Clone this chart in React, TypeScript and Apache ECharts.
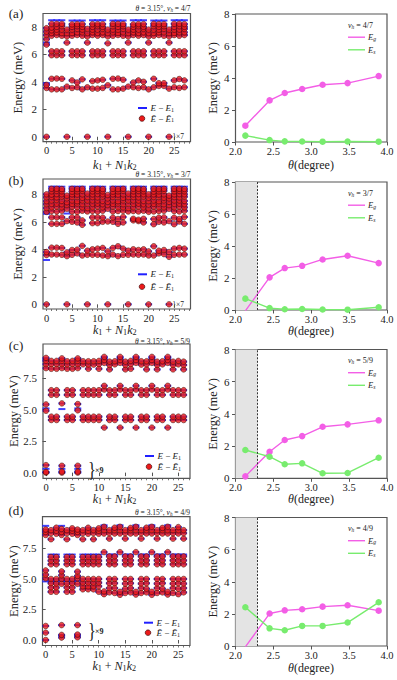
import React, { useEffect, useRef } from "react";
import * as echarts from "echarts";

const SERIF = '"Liberation Serif", "DejaVu Serif", serif';
const INK = "#222";
const FRAME = "#555";
const RED = "#ec1a1a";
const BLUE = "#2020ff";
const PINK = "#f35ee6";
const GREEN = "#78ec6e";

// ---------------- right panels: gap vs twist angle ----------------
const thetaDeg = [2.13, 2.45, 2.65, 2.88, 3.15, 3.48, 3.89];
const gapA = [1.02, 2.6, 3.06, 3.31, 3.58, 3.68, 4.12];
const splitA = [0.4, 0.12, 0.04, 0.03, 0.02, 0.03, 0.02];
const gapB = [-0.05, 2.04, 2.62, 2.76, 3.16, 3.39, 2.93];
const splitB = [0.71, 0.12, 0.05, 0.06, 0.03, 0.02, 0.17];
const gapC = [0.12, 1.65, 2.38, 2.62, 3.2, 3.35, 3.6];
const splitC = [1.76, 1.34, 0.87, 0.93, 0.31, 0.33, 1.28];
const gapD = [-0.05, 2.02, 2.22, 2.29, 2.45, 2.54, 2.2];
const splitD = [2.41, 1.1, 0.98, 1.25, 1.25, 1.46, 2.72];
const criticalTheta = 2.29;

// ---------------- left panels: spectra per momentum k1 + N1 k2 ----------------
const specA = [
  [0, 3.55, 3.78, 6.7, 7.1, 7.4, 7.65, 7.9],
  [3.45, 4.22, 5.93, 6.22, 7.35, 7.55, 7.75, 7.95, 8.22],
  [3.45, 4.24, 5.93, 6.22, 7.4, 7.6, 7.8, 8.0, 8.22],
  [3.45, 4.22, 5.93, 6.22, 7.35, 7.55, 7.8, 8.05, 8.22],
  [0, 3.65, 6.85, 7.3, 7.55, 7.8],
  [3.55, 4.1, 5.93, 6.22, 7.35, 7.55, 7.8, 8.0, 8.18],
  [3.6, 3.95, 5.93, 6.22, 7.4, 7.6, 7.85, 8.05, 8.2],
  [3.45, 4.18, 5.93, 6.22, 7.35, 7.6, 7.8, 8.0, 8.2],
  [0, 3.6, 6.85, 7.3, 7.55, 7.85],
  [3.5, 4.05, 5.93, 6.22, 7.4, 7.6, 7.8, 8.0, 8.2],
  [3.5, 4.1, 5.93, 6.22, 7.35, 7.55, 7.8, 8.05, 8.2],
  [3.55, 4.15, 5.93, 6.22, 7.4, 7.6, 7.85, 8.0, 8.2],
  [0, 3.75, 6.8, 7.3, 7.55, 7.8],
  [3.45, 4.22, 5.93, 6.22, 7.35, 7.6, 7.8, 8.05, 8.22],
  [3.45, 4.24, 5.93, 6.22, 7.4, 7.55, 7.8, 8.0, 8.22],
  [3.5, 4.15, 5.93, 6.22, 7.35, 7.6, 7.85, 8.05, 8.2],
  [0, 3.65, 6.85, 7.3, 7.55, 7.8],
  [3.6, 3.95, 5.93, 6.22, 7.4, 7.6, 7.8, 8.0, 8.18],
  [3.55, 4.1, 5.93, 6.22, 7.35, 7.55, 7.8, 8.05, 8.2],
  [3.6, 4.0, 5.93, 6.22, 7.4, 7.6, 7.85, 8.0, 8.2],
  [0, 3.45, 6.85, 7.3, 7.55, 7.8],
  [3.6, 4.22, 5.93, 6.22, 7.35, 7.55, 7.8, 8.05, 8.22],
  [3.7, 3.9, 5.93, 6.22, 7.4, 7.6, 7.8, 8.0, 8.2],
  [3.7, 3.9, 5.93, 6.22, 7.35, 7.6, 7.85, 8.05, 8.2],
  [0, 3.5, 6.85, 7.3, 7.55, 7.8],
  [3.6, 4.1, 5.93, 6.22, 7.4, 7.55, 7.8, 8.0, 8.22],
  [3.55, 4.2, 5.93, 6.22, 7.35, 7.6, 7.8, 8.05, 8.22],
  [3.6, 4.1, 5.93, 6.22, 7.4, 7.6, 7.85, 8.0, 8.2],
];
const blueOnlyA = [
  [1, 8.48], [2, 8.48], [3, 8.48], [5, 8.46], [6, 8.46], [7, 8.46], [9, 8.48], [10, 8.48], [11, 8.48],
  [13, 8.46], [14, 8.46], [15, 8.46], [17, 8.48], [18, 8.48], [19, 8.48], [21, 8.46], [22, 8.46], [23, 8.46],
  [25, 8.48], [26, 8.48], [27, 8.48], [0, 3.9], [0, 6.85],
];

const specB = [
  [0, 3.58, 3.8, 6.72, 7.0, 7.28, 7.5, 7.78, 8.0],
  [3.62, 4.12, 5.85, 6.32, 6.78, 7.05, 7.3, 7.55, 7.8, 7.98, 8.22, 8.4],
  [3.62, 4.12, 5.85, 6.32, 6.75, 7.1, 7.32, 7.58, 7.78, 8.02, 8.25, 8.4],
  [3.6, 4.1, 5.85, 6.32, 6.8, 7.05, 7.28, 7.52, 7.82, 8.0, 8.22, 8.38],
  [0, 3.5, 3.78, 6.05, 6.95, 7.22, 7.42, 7.7, 7.9],
  [3.6, 3.95, 6.0, 6.32, 6.75, 7.1, 7.3, 7.55, 7.8, 8.0, 8.2, 8.4],
  [3.7, 3.98, 5.95, 6.32, 6.72, 7.05, 7.32, 7.5, 7.8, 7.98, 8.22, 8.38],
  [3.55, 4.25, 5.78, 6.1, 6.8, 7.05, 7.28, 7.55, 7.75, 8.0, 8.25, 8.4],
  [0, 3.6, 3.9, 6.75, 7.0, 7.3, 7.55, 7.8, 8.05],
  [3.6, 4.0, 5.9, 6.32, 6.78, 7.05, 7.3, 7.55, 7.8, 8.0, 8.22, 8.4],
  [3.6, 4.05, 5.9, 6.32, 6.75, 7.1, 7.32, 7.55, 7.78, 8.02, 8.25, 8.4],
  [3.55, 4.1, 6.0, 6.3, 6.8, 7.05, 7.28, 7.52, 7.82, 8.0, 8.22, 8.38],
  [0, 3.5, 3.85, 6.02, 6.95, 7.22, 7.45, 7.7, 7.95],
  [3.62, 4.1, 6.0, 6.3, 6.75, 7.1, 7.3, 7.55, 7.8, 8.0, 8.2, 8.4],
  [3.5, 4.22, 5.85, 6.2, 6.78, 7.05, 7.32, 7.5, 7.8, 7.98, 8.22, 8.38],
  [3.6, 4.05, 5.95, 6.35, 6.8, 7.05, 7.28, 7.55, 7.75, 8.0, 8.25, 8.4],
  [0, 3.6, 3.9, 6.75, 7.0, 7.3, 7.55, 7.8, 8.05],
  [3.62, 4.0, 6.1, 6.22, 6.78, 7.05, 7.3, 7.55, 7.8, 8.0, 8.22, 8.4],
  [3.6, 3.95, 6.05, 6.15, 6.75, 7.1, 7.32, 7.55, 7.78, 8.02, 8.25, 8.4],
  [3.62, 4.0, 5.95, 6.22, 6.8, 7.05, 7.28, 7.52, 7.82, 8.0, 8.22, 8.38],
  [0, 3.55, 3.85, 6.72, 6.98, 7.25, 7.5, 7.75, 8.0],
  [3.55, 4.22, 5.82, 6.2, 6.75, 7.1, 7.3, 7.55, 7.8, 8.0, 8.2, 8.4],
  [3.7, 3.9, 6.0, 6.3, 6.78, 7.05, 7.32, 7.5, 7.8, 7.98, 8.22, 8.38],
  [3.65, 3.95, 5.95, 6.32, 6.8, 7.05, 7.28, 7.55, 7.75, 8.0, 8.25, 8.4],
  [0, 3.45, 3.8, 6.05, 6.95, 7.22, 7.45, 7.7, 7.9],
  [3.6, 4.05, 5.82, 6.3, 6.78, 7.05, 7.3, 7.55, 7.8, 8.0, 8.22, 8.4],
  [3.62, 4.1, 6.02, 6.2, 6.75, 7.1, 7.32, 7.55, 7.78, 8.02, 8.25, 8.4],
  [3.62, 4.05, 5.85, 6.35, 6.8, 7.05, 7.28, 7.52, 7.82, 8.0, 8.22, 8.38],
];
const blueOnlyB = [
  [0, 3.22], [0, 6.58], [4, 6.6], [1, 8.55], [2, 8.55], [3, 8.55], [5, 8.55], [6, 8.55], [7, 8.55],
  [9, 8.55], [10, 8.55], [11, 8.55], [13, 8.55], [14, 8.55], [15, 8.55], [17, 8.55], [18, 8.55], [19, 8.55],
  [21, 8.55], [22, 8.55], [23, 8.55], [25, 8.55], [26, 8.55], [27, 8.55],
];

const specC = [
  [0.0, 0.05, 0.6, 4.92, 5.42, 8.3, 8.62, 8.88, 9.12],
  [4.18, 4.45, 6.18, 6.55, 8.25, 8.62, 8.88],
  [4.18, 4.45, 6.18, 6.55, 8.25, 8.62, 8.88],
  [0.0, 0.08, 0.55, 5.5, 8.3, 8.62, 8.88, 9.08],
  [4.18, 4.45, 6.18, 6.55, 8.25, 8.58, 8.85],
  [4.18, 4.45, 6.18, 6.55, 8.25, 8.62, 8.88],
  [0.0, 0.08, 0.55, 4.95, 5.45, 8.3, 8.62, 8.88, 9.08],
  [4.18, 4.45, 6.18, 6.55, 8.6, 8.85],
  [4.18, 4.45, 6.18, 6.55, 8.25, 8.58, 8.85],
  [4.18, 4.45, 6.18, 6.55, 8.58, 8.85],
  [4.18, 4.45, 6.18, 6.55, 8.25, 8.62, 8.88],
  [3.58, 6.6, 6.9, 8.72, 8.95, 9.2],
  [4.18, 4.45, 6.18, 6.55, 8.2, 8.55, 8.82],
  [4.18, 4.45, 6.18, 6.55, 8.6, 8.85],
  [3.58, 6.6, 6.9, 8.72, 8.95, 9.2],
  [4.18, 4.45, 6.18, 6.55, 8.2, 8.55, 8.82],
  [4.18, 4.45, 6.18, 6.55, 8.25, 8.62, 8.88],
  [3.58, 6.6, 6.9, 8.72, 8.95, 9.2],
  [4.18, 4.45, 6.18, 6.55, 8.58, 8.85],
  [4.18, 4.45, 6.18, 6.55, 8.2, 8.6, 8.85],
  [3.58, 6.6, 6.9, 8.72, 8.95, 9.2],
  [4.18, 4.45, 6.18, 6.55, 8.2, 8.55, 8.82],
  [4.18, 4.45, 6.18, 6.55, 8.6, 8.85],
  [3.58, 6.6, 6.9, 8.72, 8.95, 9.2],
  [4.18, 4.45, 6.18, 6.55, 8.2, 8.55, 8.82],
  [4.18, 4.45, 6.18, 6.55, 8.6, 8.88],
  [4.18, 4.45, 6.18, 6.55, 8.2, 8.55, 8.82],
];
const blueOnlyC = [
  [0, 0.3], [3, 0.3], [6, 0.3], [0, 5.1], [3, 5.05], [6, 5.1], [0, 9.0], [3, 9.0], [6, 9.0],
  [11, 9.1], [14, 9.1], [17, 9.1], [20, 9.1], [23, 9.1],
];

const specD = [
  [0.0, 0.6, 1.15, 5.05, 5.35, 5.7, 8.6, 8.85, 9.05],
  [3.95, 4.3, 4.65, 5.0, 6.2, 6.5, 6.8, 8.25, 8.75, 9.0],
  [3.95, 4.3, 4.62, 5.0, 6.2, 6.5, 6.8, 8.7, 8.95, 9.2],
  [0.2, 0.42, 1.22, 4.6, 5.0, 5.3, 5.62, 8.6, 8.85, 9.1],
  [3.95, 4.3, 4.62, 5.0, 6.2, 6.5, 6.8, 8.25, 8.75, 9.0],
  [3.95, 4.3, 4.65, 5.0, 6.2, 6.5, 6.8, 8.7, 8.95, 9.15],
  [0.22, 0.45, 1.22, 4.6, 5.05, 5.25, 5.6, 8.6, 8.85, 9.05],
  [4.15, 4.4, 4.7, 5.0, 6.2, 6.5, 6.8, 8.25, 8.75, 9.0],
  [4.15, 4.4, 4.7, 5.0, 6.2, 6.5, 6.8, 8.7, 8.95, 9.2],
  [4.15, 4.4, 4.7, 5.0, 6.2, 6.5, 6.8, 8.25, 8.75, 9.0],
  [3.95, 4.4, 4.7, 5.0, 6.2, 6.5, 6.8, 8.7, 8.95, 9.15],
  [3.75, 3.98, 7.2, 8.72, 9.0, 9.28],
  [3.9, 4.25, 4.65, 5.0, 6.2, 6.52, 6.85, 8.3, 8.75, 9.0],
  [3.85, 4.25, 4.65, 5.0, 6.2, 6.52, 6.85, 8.72, 9.0, 9.2],
  [3.7, 3.95, 7.2, 8.72, 9.0, 9.28],
  [3.85, 4.2, 4.62, 5.0, 6.2, 6.52, 6.85, 8.3, 8.75, 9.0],
  [3.9, 4.25, 4.65, 5.0, 6.2, 6.52, 6.85, 8.72, 9.0, 9.18],
  [3.72, 3.95, 7.2, 8.72, 9.0, 9.28],
  [3.85, 4.25, 4.62, 5.0, 6.2, 6.52, 6.85, 8.3, 8.75, 9.0],
  [3.9, 4.2, 4.65, 5.0, 6.2, 6.52, 6.85, 8.72, 9.0, 9.2],
  [3.7, 3.95, 7.2, 8.72, 9.0, 9.28],
  [3.85, 4.25, 4.62, 5.0, 6.2, 6.52, 6.85, 8.3, 8.75, 9.0],
  [3.9, 4.2, 4.65, 5.0, 6.2, 6.52, 6.85, 8.72, 9.0, 9.18],
  [3.72, 3.95, 7.2, 8.72, 9.0, 9.28],
  [3.85, 4.25, 4.62, 5.0, 6.2, 6.52, 6.85, 8.3, 8.75, 9.0],
  [3.75, 4.2, 4.65, 5.0, 6.2, 6.52, 6.85, 8.72, 9.0, 9.25],
  [3.9, 4.25, 4.62, 5.0, 6.2, 6.52, 6.85, 8.3, 8.75, 9.0],
];
const blueOnlyD = [
  [0, 4.8], [1, 4.82], [2, 4.8], [3, 4.85], [4, 4.82], [5, 4.8], [6, 4.85], [3, 0.35], [6, 0.35],
  [0, 9.35], [3, 9.35], [11, 9.4], [14, 9.4], [17, 9.4], [20, 9.4], [23, 9.4],
  [1, 7.0], [2, 7.0], [4, 7.0], [5, 7.0], [7, 7.0], [8, 7.0], [9, 7.0], [10, 7.0], [12, 7.0], [13, 7.0],
  [15, 7.0], [16, 7.0], [18, 7.0], [19, 7.0], [21, 7.0], [22, 7.0], [24, 7.0], [25, 7.0], [26, 7.0],
];

// ---------------- ticks ----------------
const kMajorTicks = [0, 5, 10, 15, 20, 25];
const kMinorTicks = [0, 1, 2, 3, 4, 5, 6, 7, 8, 9, 10, 11, 12, 13, 14, 15, 16, 17, 18, 19, 20, 21, 22, 23, 24, 25, 26, 27, 28];
const energyTicksAB = [0, 2, 4, 6, 8];
const energyTicksCD = [0, 2.5, 5, 7.5];
const thetaTicks = [2, 2.5, 3, 3.5, 4];
const gapTicks = [0, 2, 4, 6, 8];
const fillings = ["4/7", "3/7", "5/9", "4/9"];
const panelTags = ["(a)", "(b)", "(c)", "(d)"];

const leftCfg = [
  { spec: specA, blue: blueOnlyA, top: 13.5, bottom: 141.7, left: 43, right: 190.5, xr: [-0.69, 28.2], yr: [-0.36, 8.97], ticks: energyTicksAB, dec: 0,
    legX: 138, legY1: 108, legY2: 118.5, mult: "×7", multX: 172.5, multY: 136.7, big: false, yNameX: 18, xNameY: 164.5, tagY: 13, annY: 8.5 },
  { spec: specB, blue: blueOnlyB, top: 179, bottom: 309, left: 43, right: 190.5, xr: [-0.69, 28.2], yr: [-0.34, 9.11], ticks: energyTicksAB, dec: 0,
    legX: 138, legY1: 274.3, legY2: 286.7, mult: "×7", multX: 172.5, multY: 304.3, big: false, yNameX: 18, xNameY: 330, tagY: 180, annY: 174.5 },
  { spec: specC, blue: blueOnlyC, top: 344, bottom: 478.3, left: 43, right: 190, xr: [-0.57, 27.2], yr: [-0.45, 10.22], ticks: energyTicksCD, dec: 1,
    legX: 145, legY1: 456, legY2: 466.7, mult: "×9", multX: 88, multY: 469, big: true, yNameX: 13.5, xNameY: 499, tagY: 345, annY: 341 },
  { spec: specD, blue: blueOnlyD, top: 516.7, bottom: 645.5, left: 42.5, right: 190, xr: [-0.6, 27.2], yr: [-0.45, 10.1], ticks: energyTicksCD, dec: 1,
    legX: 144, legY1: 622.7, legY2: 632.7, mult: "×9", multX: 88, multY: 630, big: true, yNameX: 13.5, xNameY: 666, tagY: 510, annY: 512.5 },
];

const rightCfg = [
  { gap: gapA, split: splitA, top: 14, bottom: 142, shade: false, xNameY: 164.5 },
  { gap: gapB, split: splitB, top: 182, bottom: 310, shade: true, xNameY: 331 },
  { gap: gapC, split: splitC, top: 349.5, bottom: 478.3, shade: true, xNameY: 499 },
  { gap: gapD, split: splitD, top: 517.5, bottom: 646, shade: true, xNameY: 668 },
];
const RIGHT_L = 235.5;
const RIGHT_R = 387;

function rich(size: number) {
  const sub = size * 0.68;
  return {
    n: { fontFamily: SERIF, fontSize: size, fill: INK },
    i: { fontFamily: SERIF, fontSize: size, fontStyle: "italic", fill: INK },
    s: { fontFamily: SERIF, fontSize: sub, fill: INK, padding: [size * 0.42, 0, 0, 0] },
    si: { fontFamily: SERIF, fontSize: sub, fontStyle: "italic", fill: INK, padding: [size * 0.42, 0, 0, 0] },
  };
}

function buildOption() {
  const grid: any[] = [];
  const xAxis: any[] = [];
  const yAxis: any[] = [];
  const series: any[] = [];
  const elements: any[] = [];

  const tickLabel = { fontFamily: SERIF, fontSize: 10.5, color: INK };
  const tickLine = { color: FRAME, width: 1 };

  leftCfg.forEach((p, i) => {
    const g = grid.length;
    grid.push({
      left: p.left, top: p.top, width: p.right - p.left, height: p.bottom - p.top,
      show: true, borderColor: FRAME, borderWidth: 1.2, backgroundColor: "transparent", outerBoundsMode: "none",
    });
    const xi = xAxis.length;
    xAxis.push({
      gridIndex: g, type: "value", position: "bottom", min: p.xr[0], max: p.xr[1],
      axisLine: { show: false }, splitLine: { show: false },
      axisTick: { show: true, customValues: kMajorTicks, length: 3.5, lineStyle: tickLine },
      axisLabel: { customValues: kMajorTicks, margin: 3.5, ...tickLabel, formatter: (v: number) => String(Math.round(v)) },
    });
    xAxis.push({
      gridIndex: g, type: "value", position: "bottom", min: p.xr[0], max: p.xr[1],
      axisLine: { show: false }, splitLine: { show: false },
      axisTick: { show: true, customValues: kMinorTicks.filter((k) => k <= p.xr[1]), length: 2, lineStyle: { color: FRAME, width: 0.8 } },
      axisLabel: { show: false },
    });
    const yi = yAxis.length;
    yAxis.push({
      gridIndex: g, type: "value", min: p.yr[0], max: p.yr[1],
      axisLine: { show: false }, splitLine: { show: false },
      axisTick: { show: true, customValues: p.ticks, length: 3.5, lineStyle: tickLine },
      axisLabel: { customValues: p.ticks, margin: 6, ...tickLabel, fontSize: 11, formatter: (v: number) => v.toFixed(p.dec) },
    });
    const red: number[][] = [];
    p.spec.forEach((levels, k) => levels.forEach((e) => red.push([k, e])));
    const blue = red.concat(p.blue);
    series.push({
      type: "scatter", xAxisIndex: xi, yAxisIndex: yi, data: blue, symbol: "rect", symbolSize: [7, 2],
      itemStyle: { color: BLUE, opacity: 0.85 }, silent: true, z: 2,
    });
    series.push({
      type: "scatter", xAxisIndex: xi, yAxisIndex: yi, data: red, symbol: "circle", symbolSize: 5.6,
      itemStyle: { color: RED, borderColor: "#2a0000", borderWidth: 0.6 }, silent: true, z: 3,
    });

    const midY = (p.top + p.bottom) / 2;
    const cx = (p.left + p.right) / 2;
    elements.push({ type: "text", x: 16, y: p.tagY, style: { text: panelTags[i], fontFamily: SERIF, fontSize: 13, fill: INK, align: "center", verticalAlign: "middle" } });
    elements.push({
      type: "text", x: p.right, y: p.annY,
      style: { text: `{i|θ}{n| = 3.15°, }{i|ν}{si|h}{n| = ${fillings[i]}}`, rich: rich(7.5), align: "right", verticalAlign: "middle" },
    });
    elements.push({ type: "text", x: p.yNameX, y: midY, rotation: Math.PI / 2, style: { text: "Energy (meV)", fontFamily: SERIF, fontSize: 12.5, fill: INK, align: "center", verticalAlign: "middle" } });
    elements.push({
      type: "text", x: cx - 2, y: p.xNameY,
      style: { text: "{i|k}{s|1}{n| + }{i|N}{s|1}{i|k}{s|2}", rich: rich(12), align: "center", verticalAlign: "middle" },
    });
    elements.push({ type: "line", shape: { x1: p.legX, y1: p.legY1, x2: p.legX + 9, y2: p.legY1 }, style: { stroke: BLUE, lineWidth: 2 } });
    elements.push({ type: "text", x: p.legX + 12.5, y: p.legY1, style: { text: "{i|E}{n| − }{i|E}{s|1}", rich: rich(9), align: "left", verticalAlign: "middle" } });
    elements.push({ type: "circle", shape: { cx: p.legX + 4, cy: p.legY2, r: 2.8 }, style: { fill: RED, stroke: "#2a0000", lineWidth: 0.6 } });
    elements.push({ type: "text", x: p.legX + 12.5, y: p.legY2, style: { text: "{i|Ẽ}{n| − }{i|Ẽ}{s|1}", rich: rich(9), align: "left", verticalAlign: "middle" } });
    if (p.big) {
      elements.push({ type: "text", x: p.multX, y: p.multY, scaleX: 0.75, style: { text: "}", fontFamily: SERIF, fontSize: 22, fill: INK, align: "left", verticalAlign: "middle" } });
      elements.push({ type: "text", x: p.multX + 7, y: p.multY + 1, style: { text: p.mult, fontFamily: SERIF, fontSize: 8, fontWeight: "bold", fill: INK, align: "left", verticalAlign: "middle" } });
    } else {
      elements.push({ type: "text", x: p.multX, y: p.multY, style: { text: "}" + p.mult, fontFamily: SERIF, fontSize: 7.5, fill: INK, align: "left", verticalAlign: "middle" } });
    }
  });

  rightCfg.forEach((p, i) => {
    const g = grid.length;
    grid.push({
      left: RIGHT_L, top: p.top, width: RIGHT_R - RIGHT_L, height: p.bottom - p.top,
      show: true, borderColor: FRAME, borderWidth: 1.2, backgroundColor: "transparent", outerBoundsMode: "none",
    });
    const xi = xAxis.length;
    xAxis.push({
      gridIndex: g, type: "value", position: "bottom", min: 2, max: 4,
      axisLine: { show: false }, splitLine: { show: false },
      axisTick: { show: true, customValues: thetaTicks, length: 3.5, lineStyle: tickLine },
      axisLabel: { customValues: thetaTicks, margin: 3.5, ...tickLabel, formatter: (v: number) => v.toFixed(1) },
    });
    const yi = yAxis.length;
    yAxis.push({
      gridIndex: g, type: "value", min: 0, max: 8,
      axisLine: { show: false }, splitLine: { show: false },
      axisTick: { show: true, customValues: gapTicks, length: 3.5, lineStyle: tickLine },
      axisLabel: { customValues: gapTicks, margin: 6, ...tickLabel, fontSize: 11, formatter: (v: number) => String(v) },
    });
    if (p.shade) {
      series.push({
        type: "scatter", xAxisIndex: xi, yAxisIndex: yi, data: [], z: 1, silent: true,
        markArea: { silent: true, itemStyle: { color: "#e4e4e4" }, data: [[{ xAxis: 2.0 }, { xAxis: criticalTheta }]] },
        markLine: {
          silent: true, symbol: ["none", "none"], label: { show: false },
          lineStyle: { type: [2, 1.5], color: "#333", width: 1 }, data: [{ xAxis: criticalTheta }],
        },
      });
    }
    series.push({
      type: "line", xAxisIndex: xi, yAxisIndex: yi, data: thetaDeg.map((t, j) => [t, p.gap[j]]),
      symbol: "circle", symbolSize: 6.5, showSymbol: true, clip: true,
      lineStyle: { color: PINK, width: 1.4 }, itemStyle: { color: PINK }, silent: true, z: 3,
    });
    series.push({
      type: "line", xAxisIndex: xi, yAxisIndex: yi, data: thetaDeg.map((t, j) => [t, p.split[j]]),
      symbol: "circle", symbolSize: 6.5, showSymbol: true, clip: true,
      lineStyle: { color: GREEN, width: 1.4 }, itemStyle: { color: GREEN }, silent: true, z: 3,
    });

    const midY = (p.top + p.bottom) / 2;
    elements.push({ type: "text", x: 213.3, y: midY, rotation: Math.PI / 2, style: { text: "Energy (meV)", fontFamily: SERIF, fontSize: 12.5, fill: INK, align: "center", verticalAlign: "middle" } });
    elements.push({ type: "text", x: 311, y: p.xNameY, style: { text: "{i|θ}{n|(degree)}", rich: rich(12), align: "center", verticalAlign: "middle" } });
    elements.push({ type: "text", x: 348, y: p.top + 11, style: { text: `{i|ν}{si|h}{n| = ${fillings[i]}}`, rich: rich(8), align: "left", verticalAlign: "middle" } });
    elements.push({ type: "line", shape: { x1: 348, y1: p.top + 23.2, x2: 365, y2: p.top + 23.2 }, style: { stroke: PINK, lineWidth: 1.4 } });
    elements.push({ type: "text", x: 368, y: p.top + 23.2, style: { text: "{i|E}{si|g}", rich: rich(8.5), align: "left", verticalAlign: "middle" } });
    elements.push({ type: "line", shape: { x1: 348, y1: p.top + 35.8, x2: 365, y2: p.top + 35.8 }, style: { stroke: GREEN, lineWidth: 1.4 } });
    elements.push({ type: "text", x: 368, y: p.top + 35.8, style: { text: "{i|E}{si|s}", rich: rich(8.5), align: "left", verticalAlign: "middle" } });
  });

  return {
    animation: false,
    backgroundColor: "#ffffff",
    grid, xAxis, yAxis, series,
    graphic: { elements },
  };
}

export default function App() {
  const ref = useRef<HTMLDivElement>(null);
  useEffect(() => {
    if (!ref.current) return;
    const chart = echarts.init(ref.current, null, { renderer: "svg" });
    chart.setOption(buildOption() as any);
    return () => chart.dispose();
  }, []);
  return <div ref={ref} style={{ position: "absolute", left: 0, top: 0, width: 397, height: 680 }} />;
}
